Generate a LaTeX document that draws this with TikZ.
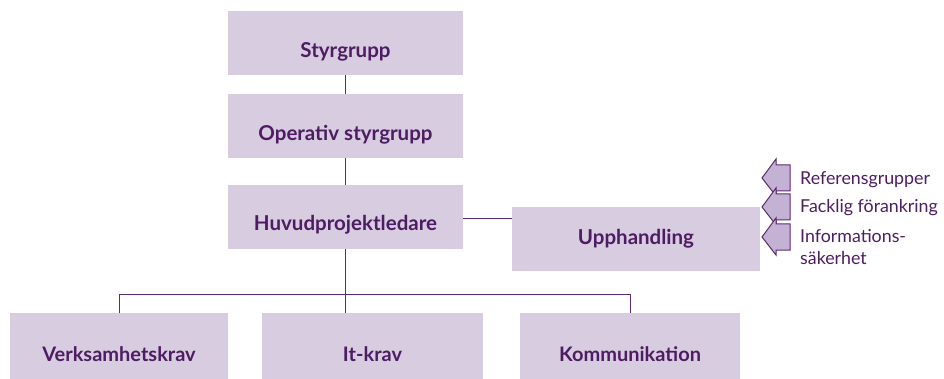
\documentclass[tikz,border=0pt]{standalone}
\usepackage{fontspec}
\setmainfont{Lato}
\definecolor{boxfill}{RGB}{216,204,224}
\definecolor{txt}{RGB}{78,28,98}
\definecolor{ln}{RGB}{92,42,112}
\definecolor{arrfill}{RGB}{196,178,212}
\begin{document}
\begin{tikzpicture}[x=1pt,y=-1pt,
  box/.style={rectangle,fill=boxfill,inner sep=0pt,text=txt,font=\fontsize{20.5}{24}\selectfont\bfseries},
  boxtext/.style={inner sep=0pt,text=txt,font=\fontsize{20.5}{24}\selectfont\bfseries},
  lowbox/.style={box,font=\fontsize{20}{22}\selectfont\bfseries},
  conn/.style={draw=ln,line width=1pt},
  lab/.style={anchor=base west,text=txt,inner sep=0pt,font=\fontsize{17.8}{22}\selectfont,align=left},
  arr/.style={draw=ln,fill=arrfill,line width=1pt,line join=miter}]
\useasboundingbox (0,0) rectangle (944,379);
\node[box,minimum width=235pt,minimum height=64pt] (styr) at (345.5,43) {};
\node[boxtext] (styrt) at ([yshift=-9pt]styr.center) {Styrgrupp};
\node[box,minimum width=235pt,minimum height=64pt] (oper) at (345.5,126) {};
\node[boxtext] (opert) at ([yshift=-9pt]oper.center) {Operativ styrgrupp};
\node[box,minimum width=235pt,minimum height=64pt] (huvud) at (345.5,217) {};
\node[boxtext] (huvudt) at ([yshift=-8pt]huvud.center) {Huvudprojektledare};
\node[box,minimum width=248pt,minimum height=64pt] (upph) at (636,239) {Upphandling};
\node[lowbox,minimum width=218pt,minimum height=82pt] (verk) at (119,354) {Verksamhetskrav};
\node[lowbox,minimum width=221pt,minimum height=82pt] (itk) at (372.5,354) {It-krav};
\node[lowbox,minimum width=220pt,minimum height=82pt] (komm) at (630,354) {Kommunikation};
\draw[conn] (styr.south) -- (oper.north);
\draw[conn] (oper.south) -- (huvud.north);
\draw[conn] ([yshift=-2pt]huvud.east) -- ([yshift=-2pt]huvud.east -| upph.west);
\draw[conn] (huvud.south) -- (huvud.south |- itk.north);
\draw[conn] (verk.north) -- ++(0,-18) -| (komm.north);
\foreach \t in {178,207,237}{
  \draw[arr] (762,\t) -- (776,\t-19) -- (776,\t-13) -- (790,\t-13) -- (790,\t+13) -- (776,\t+13) -- (776,\t+18) -- cycle;
}
\node[lab] (ref) at (800,185) {Referensgrupper};
\node[lab] (fack) at (800,213) {Facklig förankring};
\node[lab] (info) at (800,265) {Informations-\\säkerhet};
\end{tikzpicture}
\end{document}
